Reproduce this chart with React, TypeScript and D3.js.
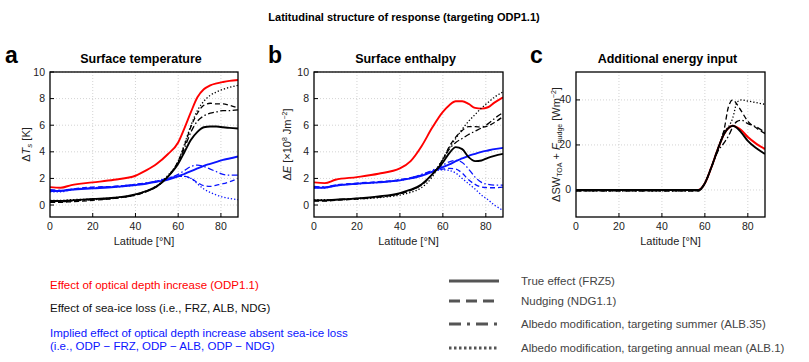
import * as d3 from 'd3';

// latitude grid for panels a and b
const latAB = [0, 5, 10, 20, 30, 40, 45, 50, 55, 60, 63, 66, 69, 72, 75, 78, 81, 84, 88];
const latC = [0, 20, 40, 57, 60, 63, 66, 69, 71, 73, 75, 77, 80, 84, 88];

// a: surface temperature [K]
const tsODP = [1.35, 1.3, 1.5, 1.7, 1.9, 2.2, 2.6, 3.1, 3.8, 4.7, 5.8, 7.0, 8.1, 8.7, 9.0, 9.15, 9.25, 9.33, 9.4];
const tsFRZ = [0.3, 0.3, 0.35, 0.45, 0.55, 0.8, 1.05, 1.4, 2.1, 3.1, 4.0, 4.9, 5.5, 5.85, 5.9, 5.9, 5.85, 5.8, 5.75];
const tsNDG = [0.2, 0.2, 0.25, 0.35, 0.5, 0.75, 1.0, 1.4, 2.1, 3.3, 4.5, 5.9, 6.9, 7.5, 7.65, 7.6, 7.6, 7.5, 7.3];
const tsALB35 = [0.25, 0.25, 0.3, 0.4, 0.5, 0.75, 1.0, 1.4, 2.1, 3.2, 4.3, 5.5, 6.3, 6.7, 6.9, 7.0, 7.1, 7.1, 7.15];
const tsALB1 = [0.35, 0.35, 0.4, 0.45, 0.55, 0.8, 1.05, 1.45, 2.2, 3.3, 4.6, 6.0, 7.1, 7.8, 8.25, 8.5, 8.7, 8.85, 9.0];
const tsImpFRZ = [1.05, 1.05, 1.15, 1.25, 1.35, 1.5, 1.6, 1.75, 1.9, 2.15, 2.35, 2.55, 2.75, 2.95, 3.1, 3.25, 3.4, 3.5, 3.65];
const tsImpNDG = [1.15, 1.1, 1.2, 1.35, 1.4, 1.55, 1.65, 1.8, 2.0, 2.15, 2.15, 2.0, 1.7, 1.45, 1.4, 1.5, 1.6, 1.75, 2.0];
const tsImpALB35 = [1.1, 1.1, 1.2, 1.3, 1.4, 1.55, 1.65, 1.8, 2.0, 2.3, 2.6, 2.9, 3.0, 2.9, 2.7, 2.5, 2.3, 2.25, 2.25];
const tsImpALB1 = [1.0, 1.0, 1.15, 1.3, 1.35, 1.5, 1.65, 1.8, 2.0, 2.15, 2.15, 2.0, 1.6, 1.2, 0.95, 0.75, 0.6, 0.5, 0.4];

// b: surface enthalpy [1e8 J m-2]
const eODP = [1.7, 1.65, 1.9, 2.1, 2.35, 2.75, 3.3, 4.4, 5.8, 7.0, 7.5, 7.8, 7.8, 7.6, 7.3, 7.25, 7.35, 7.7, 8.1];
const eFRZ = [0.35, 0.35, 0.4, 0.5, 0.65, 0.9, 1.15, 1.55, 2.3, 3.2, 3.9, 4.35, 4.2, 3.6, 3.3, 3.35, 3.55, 3.7, 3.85];
const eNDG = [0.3, 0.3, 0.35, 0.45, 0.6, 0.85, 1.1, 1.5, 2.3, 3.4, 4.4, 5.1, 5.6, 5.9, 5.9, 5.85, 5.95, 6.2, 6.65];
const eALB35 = [0.35, 0.35, 0.4, 0.5, 0.6, 0.85, 1.1, 1.5, 2.3, 3.4, 4.2, 4.7, 5.0, 5.3, 5.55, 5.8, 6.1, 6.5, 6.95];
const eALB1 = [0.4, 0.4, 0.4, 0.45, 0.55, 0.75, 0.95, 1.3, 2.1, 3.5, 4.3, 5.0, 5.7, 6.3, 6.8, 7.3, 7.7, 8.1, 8.5];
const eImpFRZ = [1.3, 1.3, 1.45, 1.6, 1.7, 1.85, 2.0, 2.2, 2.5, 2.85, 3.05, 3.3, 3.5, 3.7, 3.85, 4.0, 4.1, 4.2, 4.3];
const eImpNDG = [1.4, 1.35, 1.5, 1.65, 1.75, 1.9, 2.05, 2.25, 2.55, 2.7, 2.75, 2.7, 2.4, 1.9, 1.55, 1.35, 1.3, 1.3, 1.35];
const eImpALB35 = [1.35, 1.35, 1.5, 1.6, 1.7, 1.9, 2.05, 2.3, 2.6, 3.0, 3.25, 3.35, 3.2, 2.7, 2.1, 1.7, 1.55, 1.5, 1.5];
const eImpALB1 = [1.3, 1.3, 1.45, 1.6, 1.7, 1.85, 2.0, 2.2, 2.5, 2.65, 2.6, 2.4, 2.0, 1.6, 1.2, 0.75, 0.4, 0.0, -0.4];

// c: additional energy input [W m-2]
const fODP = [0, 0, 0, 0, 3, 10, 18, 25, 27.5, 28.5, 27.8, 26.5, 23.5, 20.5, 18.2];
const fFRZ = [0, 0, 0, 0, 3, 10, 18, 25, 27.5, 28.5, 27.5, 25.5, 21.8, 18.5, 16];
const fNDG = [-0.4, -0.4, -0.4, -0.4, 3, 10, 18, 27, 37, 40, 38, 35, 30.5, 27.5, 25];
const fALB35 = [-0.4, -0.4, -0.4, -0.4, 3, 10, 17, 21, 24, 28, 30.5, 31, 29.5, 28, 25.5];
const fALB1 = [-0.4, -0.4, -0.4, -0.4, 3, 10, 18, 26, 28, 32, 39, 40, 39.5, 38.8, 38];

const xTicks = [0, 20, 40, 60, 80];
const yTicksAB = [0, 2, 4, 6, 8, 10];
const yTicksC = [0, 20, 40];

const RED = '#f00';
const BLUE = '#0a14ff';
const BLACK = '#000';
const FONT = '"Liberation Sans", Arial, Helvetica, sans-serif';

const DASH = '5,3';
const DASHDOT = '6,2.5,1.5,2.5';
const DOT = '1.3,2';

type Series = { lat: number[]; v: number[]; color: string; dash?: string; w: number };

function Panel({ x0, x1, yDomain, yTicks, series, letter, title, ylabel, ylabelX }: any) {
  const top = 72, bottom = 217;
  const x = d3.scaleLinear().domain([0, 88]).range([x0, x1]);
  const y = d3.scaleLinear().domain(yDomain).range([bottom, top]);
  const clipId = 'clip' + letter;
  return (
    <g fontFamily={FONT}>
      <defs>
        <clipPath id={clipId}>
          <rect x={x0} y={top} width={x1 - x0} height={bottom - top} />
        </clipPath>
      </defs>
      <text x={letter === 'a' ? 5 : x0 - 46} y={63} fontSize={23} fontWeight="bold">{letter}</text>
      <text x={(x0 + x1) / 2 - 3} y={63} fontSize={12.5} fontWeight="bold" textAnchor="middle">{title}</text>
      {/* grid */}
      {xTicks.slice(1).map(t => (
        <line key={'gx' + t} x1={x(t)} x2={x(t)} y1={top} y2={bottom} stroke="#c8c8c8" strokeWidth={0.8} strokeDasharray="1,2" />
      ))}
      {yTicks.map((t: number) => (
        <line key={'gy' + t} x1={x0} x2={x1} y1={y(t)} y2={y(t)} stroke="#c8c8c8" strokeWidth={0.8} strokeDasharray="1,2" />
      ))}
      {/* curves */}
      <g clipPath={`url(#${clipId})`}>
        {series.map((s: Series, i: number) => {
          const line = d3.line<number>()
            .x((_, j) => x(s.lat[j]))
            .y(d => y(d))
            .curve(d3.curveMonotoneX);
          return (
            <path key={i} d={line(s.v) || ''} fill="none" stroke={s.color} strokeWidth={s.w}
              strokeDasharray={s.dash} strokeLinejoin="round" />
          );
        })}
      </g>
      {/* frame and ticks */}
      <rect x={x0} y={top} width={x1 - x0} height={bottom - top} fill="none" stroke="#000" strokeWidth={1.3} />
      {xTicks.map(t => (
        <g key={'tx' + t}>
          {t > 0 && <line x1={x(t)} x2={x(t)} y1={bottom} y2={bottom - 4} stroke="#000" strokeWidth={1} />}
          <text x={x(t)} y={230} fontSize={10.5} textAnchor="middle" fill="#222">{t}</text>
        </g>
      ))}
      {yTicks.map((t: number) => (
        <g key={'ty' + t}>
          <line x1={x0} x2={x0 + 4} y1={y(t)} y2={y(t)} stroke="#000" strokeWidth={1} />
          <text x={x0 - 5} y={y(t) + 3.5} fontSize={10.5} textAnchor="end" fill="#222">{t}</text>
        </g>
      ))}
      <text x={(x0 + x1) / 2} y={245} fontSize={11} textAnchor="middle" fill="#222">Latitude [°N]</text>
      <text transform={`translate(${ylabelX},${(top + bottom) / 2}) rotate(-90)`} fontSize={11} textAnchor="middle" fill="#222">
        {ylabel}
      </text>
    </g>
  );
}

function mk(lat: number[], odp: number[] | null, frz: number[], ndg: number[], a35: number[], a1: number[], imp: number[][] | null): Series[] {
  const out: Series[] = [];
  if (odp) out.push({ lat, v: odp, color: RED, w: 1.9 });
  if (imp) {
    out.push({ lat, v: imp[1], color: BLUE, dash: DASH, w: 1.3 });
    out.push({ lat, v: imp[2], color: BLUE, dash: DASHDOT, w: 1.3 });
    out.push({ lat, v: imp[3], color: BLUE, dash: DOT, w: 1.3 });
    out.push({ lat, v: imp[0], color: BLUE, w: 1.9 });
  }
  out.push({ lat, v: ndg, color: BLACK, dash: DASH, w: 1.3 });
  out.push({ lat, v: a35, color: BLACK, dash: DASHDOT, w: 1.3 });
  out.push({ lat, v: a1, color: BLACK, dash: DOT, w: 1.3 });
  out.push({ lat, v: frz, color: BLACK, w: 1.9 });
  return out;
}

const legendRight = [
  { label: 'True effect (FRZ5)', dash: undefined },
  { label: 'Nudging (NDG1.1)', dash: '11,6' },
  { label: 'Albedo modification, targeting summer (ALB.35)', dash: '12,6,3,6' },
  { label: 'Albedo modification, targeting annual mean (ALB.1)', dash: '2.5,2.5' },
];

export default function App() {
  const seriesA = mk(latAB, tsODP, tsFRZ, tsNDG, tsALB35, tsALB1, [tsImpFRZ, tsImpNDG, tsImpALB35, tsImpALB1]);
  const seriesB = mk(latAB, eODP, eFRZ, eNDG, eALB35, eALB1, [eImpFRZ, eImpNDG, eImpALB35, eImpALB1]);
  const seriesC = [
    { lat: latC, v: fODP, color: RED, w: 2 },
    ...mk(latC, null, fFRZ, fNDG, fALB35, fALB1, null),
  ];
  return (
    <svg width={809} height={362} style={{ position: 'absolute', left: 0, top: 0, background: '#fff' }}>
      <text x={404} y={21} fontFamily={FONT} fontSize={11} fontWeight="bold" textAnchor="middle">
        Latitudinal structure of response (targeting ODP1.1)
      </text>
      <Panel x0={50} x1={238} yDomain={[-0.9, 10]} yTicks={yTicksAB} series={seriesA} letter="a"
        title="Surface temperature" ylabelX={30}
        ylabel={<>Δ<tspan fontStyle="italic">T</tspan><tspan fontSize={8} dy={2} fontStyle="italic">s</tspan><tspan dy={-2}> [K]</tspan></>} />
      <Panel x0={314} x1={503} yDomain={[-0.9, 10]} yTicks={yTicksAB} series={seriesB} letter="b"
        title="Surface enthalpy" ylabelX={291}
        ylabel={<>Δ<tspan fontStyle="italic">E</tspan> [×10<tspan fontSize={7} dy={-4}>8</tspan><tspan dy={4}> Jm</tspan><tspan fontSize={7} dy={-4}>−2</tspan><tspan dy={4}>]</tspan></>} />
      <Panel x0={576} x1={765} yDomain={[-12, 52.4]} yTicks={yTicksC} series={seriesC} letter="c"
        title="Additional energy input" ylabelX={560}
        ylabel={<>ΔSW<tspan fontSize={7} dy={2}>TOA</tspan><tspan dy={-2}> + </tspan><tspan fontStyle="italic">F</tspan><tspan fontSize={7} dy={2}>nudge</tspan><tspan dy={-2}> [Wm</tspan><tspan fontSize={7} dy={-4}>−2</tspan><tspan dy={4}>]</tspan></>} />
      <g fontFamily={FONT} fontSize={11.5}>
        <text x={50} y={289} fill={RED}>Effect of optical depth increase (ODP1.1)</text>
        <text x={50} y={312} fill="#111">Effect of sea-ice loss (i.e., FRZ, ALB, NDG)</text>
        <text x={50} y={337} fill={BLUE}>Implied effect of optical depth increase absent sea-ice loss</text>
        <text x={50} y={350} fill={BLUE}>(i.e., ODP − FRZ, ODP − ALB, ODP − NDG)</text>
        {legendRight.map((d, i) => {
          const yy = [281, 301, 324, 348][i];
          return (
            <g key={d.label}>
              <line x1={449} x2={499} y1={yy} y2={yy} stroke="#555" strokeWidth={3} strokeDasharray={d.dash} />
              <text x={521} y={yy + 4} fill="#444">{d.label}</text>
            </g>
          );
        })}
      </g>
    </svg>
  );
}
